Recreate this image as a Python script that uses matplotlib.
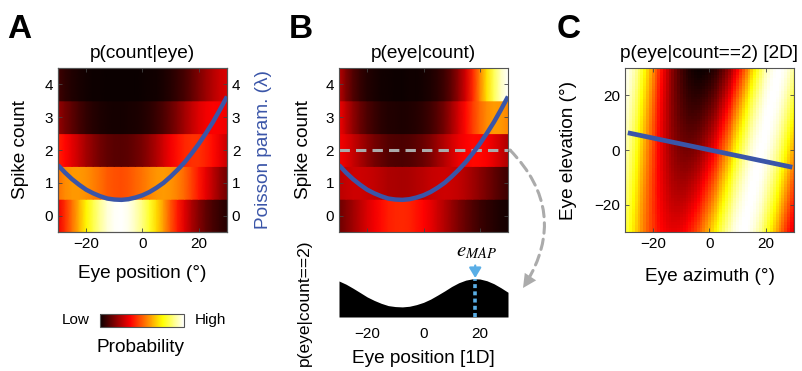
import math
import numpy as np
import matplotlib
matplotlib.use("Agg")
import matplotlib.pyplot as plt
from matplotlib.patches import FancyArrowPatch
from matplotlib.cm import ScalarMappable
from matplotlib.colors import Normalize

plt.rcParams['font.family'] = ['Liberation Sans', 'DejaVu Sans']
plt.rcParams['mathtext.fontset'] = 'stix'

# tuning curve: Poisson rate (lambda) sampled every 2.5 deg of eye position
eye_pos = np.linspace(-30, 30, 25)
lam = np.array([1.54, 1.31, 1.11, 0.94, 0.79, 0.68, 0.59, 0.52, 0.49, 0.48,
                0.50, 0.55, 0.62, 0.72, 0.85, 1.00, 1.19, 1.40, 1.63, 1.90,
                2.19, 2.51, 2.85, 3.23, 3.63])
counts = [0, 1, 2, 3, 4]
obs_count = 2

# 2D version: same curve along azimuth, bands tilted with elevation
tilt = 0.16
elev_drift = 0.006
dir_az = [-29.0, 29.4]
dir_el = [6.3, -6.3]

BLUE = '#3a55a8'
LBLUE = '#5aaee6'
GRAY = '#ababab'
FS = 13.7
TS = 11
W, H = 803, 371

fig = plt.figure(figsize=(W / 100, H / 100), dpi=100)


def px(x0, y0, x1, y1):
    return [x0 / W, 1 - y1 / H, (x1 - x0) / W, (y1 - y0) / H]


def style(ax, **kw):
    ax.tick_params(direction='in', length=3, width=0.6, colors='#444',
                   labelcolor='k', labelsize=TS, **kw)
    for s in ax.spines.values():
        s.set_color('#555')
        s.set_linewidth(0.8)


def count_bands(ax, vals):
    # one band per spike count, smooth along eye position only
    ys = np.array([[c - 0.5, c + 0.5] for c in counts]).reshape(-1)
    X = np.tile(eye_pos, (len(ys), 1))
    Y = np.tile(ys[:, None], (1, len(eye_pos)))
    C = np.repeat(vals, 2, axis=0)
    ax.pcolormesh(X, Y, C, shading='gouraud', cmap='hot', vmin=0, vmax=vals.max())
    ax.set_xlim(-30, 30)
    ax.set_ylim(-0.5, 4.5)
    ax.set_xticks([-20, 0, 20])
    ax.set_yticks(counts)


p_ce = np.array([lam ** k * np.exp(-lam) / math.factorial(k) for k in counts])
p_ec = p_ce / p_ce.sum(axis=1, keepdims=True)

# ---- A: p(count|eye)
axA = fig.add_axes(px(58, 68, 227, 232))
count_bands(axA, p_ce)
axA.plot(eye_pos, lam, color=BLUE, lw=3.2, solid_capstyle='butt')
style(axA, top=True)
axA.set_title('p(count|eye)', fontsize=FS, pad=7)
axA.set_ylabel('Spike count', fontsize=FS)
axA.yaxis.set_label_coords(-0.17, 0.5)
axA.set_xlabel('Eye position (°)', fontsize=FS)
axA.xaxis.set_label_coords(0.5, -0.2)
axA2 = axA.twinx()
axA2.set_ylim(-0.5, 4.5)
axA2.set_yticks(counts)
style(axA2)
axA2.set_ylabel('Poisson param. (λ)', color=BLUE, fontsize=FS)
axA2.yaxis.set_label_coords(1.166, 0.5)

# ---- B: p(eye|count)
axB = fig.add_axes(px(339, 68, 508, 232))
count_bands(axB, p_ec)
axB.plot([-30, 31], [obs_count, obs_count], color=GRAY, lw=2.2,
         ls=(0, (3.4, 2.0)), clip_on=False)
axB.plot(eye_pos, lam, color=BLUE, lw=3.2, solid_capstyle='butt')
style(axB, top=True, right=True)
axB.set_xticklabels([])
axB.set_title('p(eye|count)', fontsize=FS, pad=7)
axB.set_ylabel('Spike count', fontsize=FS)
axB.yaxis.set_label_coords(-0.16, 0.5)

# posterior for the observed count
post = p_ec[obs_count]
i0 = int(np.argmin(lam))
e_map = np.interp(obs_count, lam[i0:], eye_pos[i0:])
p_map = np.interp(e_map, eye_pos, post)

axP = fig.add_axes(px(339, 278, 508, 317))
axP.fill_between(eye_pos, 0, post, color='k', lw=0)
axP.plot([e_map, e_map], [0, p_map], color=LBLUE, lw=2.6, ls=(0, (1.1, 0.9)))
axP.set_xlim(-30, 30)
axP.set_ylim(0, post.max() * 1.02)
for s in axP.spines.values():
    s.set_visible(False)
axP.set_yticks([])
axP.set_xticks([-20, 0, 20])
axP.tick_params(length=0, labelsize=TS, pad=7)
axP.set_ylabel('p(eye|count==2)', fontsize=12.5)
axP.yaxis.set_label_coords(-0.16, 0.36)
axP.set_xlabel('Eye position [1D]', fontsize=FS)
axP.xaxis.set_label_coords(0.5, -0.85)
axP.annotate('', xy=(e_map, post.max() * 1.02), xytext=(0, 9),
             textcoords='offset points', annotation_clip=False,
             arrowprops=dict(arrowstyle='-|>,head_length=0.5,head_width=0.3',
                             color=LBLUE, lw=1.6, shrinkA=0, shrinkB=0,
                             mutation_scale=12))
axP.annotate(r'$e_{MAP}$', xy=(e_map, post.max() * 1.02), xytext=(1, 19),
             textcoords='offset points', ha='center', va='center',
             fontsize=15, annotation_clip=False)

# curved dashed pointer from the count==2 row down to the posterior
pA = (510 / W, 1 - 150 / H)
pB = (523 / W, 1 - 288 / H)
fig.patches.append(FancyArrowPatch(pA, pB, transform=fig.transFigure,
                                   connectionstyle='arc3,rad=-0.4', arrowstyle='-',
                                   ls=(0, (3.4, 2.0)), lw=2.2, color=GRAY,
                                   shrinkA=0, shrinkB=4))
fig.patches.append(FancyArrowPatch(pA, pB, transform=fig.transFigure,
                                   connectionstyle='arc3,rad=-0.4',
                                   arrowstyle='-|>,head_length=0.7,head_width=0.35',
                                   mutation_scale=14, lw=0, color=GRAY,
                                   shrinkA=0, shrinkB=0))

# ---- C: p(eye|count==2) over azimuth and elevation
az = np.arange(-30, 31)
el = np.arange(-30, 31)
AZ, EL = np.meshgrid(az, el)
coef = np.polyfit(eye_pos, lam, 2)
lam2d = np.polyval(coef, AZ - tilt * EL) - elev_drift * EL
post2d = lam2d ** obs_count * np.exp(-lam2d) / math.factorial(obs_count)

axC = fig.add_axes(px(625, 68, 794, 232))
axC.pcolormesh(az, el, post2d, cmap='hot', shading='nearest',
               vmin=post2d.min(), vmax=post2d.max())
axC.plot(dir_az, dir_el, color=BLUE, lw=3.4, solid_capstyle='butt')
axC.set_xlim(-30, 30)
axC.set_ylim(-30, 30)
axC.set_xticks([-20, 0, 20])
axC.set_yticks([-20, 0, 20])
style(axC, top=True, right=True)
axC.set_title('p(eye|count==2) [2D]', fontsize=FS, pad=7)
axC.set_xlabel('Eye azimuth (°)', fontsize=FS)
axC.xaxis.set_label_coords(0.5, -0.22)
axC.set_ylabel('Eye elevation (°)', fontsize=FS)
axC.yaxis.set_label_coords(-0.284, 0.5)

# ---- colour scale
cax = fig.add_axes(px(100, 314, 184, 327))
cb = fig.colorbar(ScalarMappable(Normalize(0, 1), cmap='hot'), cax=cax,
                  orientation='horizontal')
cb.set_ticks([])
cb.outline.set_linewidth(0.8)
cb.outline.set_edgecolor('#555')
fig.text(76 / W, 1 - 320 / H, 'Low', ha='center', va='center', fontsize=TS)
fig.text(210 / W, 1 - 320 / H, 'High', ha='center', va='center', fontsize=TS)
fig.text(141 / W, 1 - 347 / H, 'Probability', ha='center', va='center', fontsize=FS)

# panel letters
for x, s in [(7, 'A'), (289, 'B'), (557, 'C')]:
    fig.text(x / W, 1 - 38 / H, s, fontsize=24, fontweight='bold', va='baseline')

fig.savefig('out.png', dpi=100)
